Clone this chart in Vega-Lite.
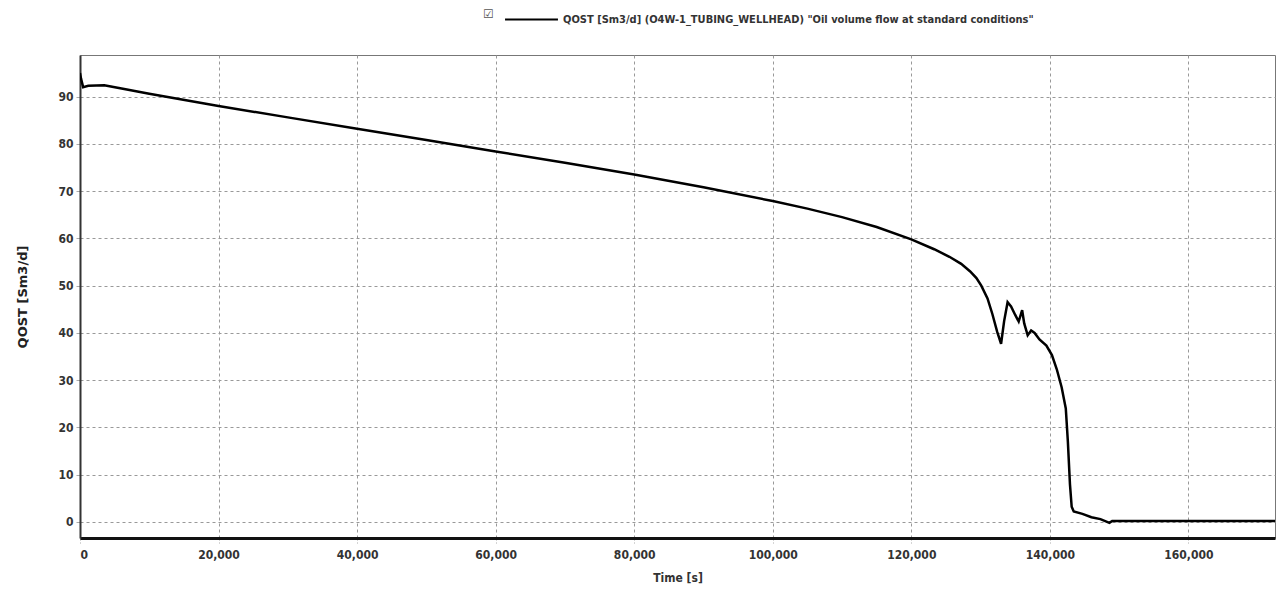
{
  "$schema": "https://vega.github.io/schema/vega-lite/v6.json",
  "autosize": "none",
  "width": 1195,
  "height": 483,
  "padding": {"left": 80, "top": 55, "right": 2, "bottom": 55},
  "background": "white",
  "config": {
    "font": "DejaVu Sans Condensed, Liberation Sans, sans-serif",
    "view": {"stroke": "#777", "strokeWidth": 1}
  },
  "data": {
    "values": [
      {"t": 0, "q": 95.0, "s": "QOST [Sm3/d] (O4W-1_TUBING_WELLHEAD) \"Oil volume flow at standard conditions\""},
      {"t": 150, "q": 93.8, "s": "QOST [Sm3/d] (O4W-1_TUBING_WELLHEAD) \"Oil volume flow at standard conditions\""},
      {"t": 450, "q": 92.0, "s": "QOST [Sm3/d] (O4W-1_TUBING_WELLHEAD) \"Oil volume flow at standard conditions\""},
      {"t": 1200, "q": 92.3, "s": "QOST [Sm3/d] (O4W-1_TUBING_WELLHEAD) \"Oil volume flow at standard conditions\""},
      {"t": 3500, "q": 92.4, "s": "QOST [Sm3/d] (O4W-1_TUBING_WELLHEAD) \"Oil volume flow at standard conditions\""},
      {"t": 6000, "q": 91.7, "s": "QOST [Sm3/d] (O4W-1_TUBING_WELLHEAD) \"Oil volume flow at standard conditions\""},
      {"t": 10000, "q": 90.6, "s": "QOST [Sm3/d] (O4W-1_TUBING_WELLHEAD) \"Oil volume flow at standard conditions\""},
      {"t": 20000, "q": 88.0, "s": "QOST [Sm3/d] (O4W-1_TUBING_WELLHEAD) \"Oil volume flow at standard conditions\""},
      {"t": 30000, "q": 85.6, "s": "QOST [Sm3/d] (O4W-1_TUBING_WELLHEAD) \"Oil volume flow at standard conditions\""},
      {"t": 40000, "q": 83.2, "s": "QOST [Sm3/d] (O4W-1_TUBING_WELLHEAD) \"Oil volume flow at standard conditions\""},
      {"t": 50000, "q": 80.8, "s": "QOST [Sm3/d] (O4W-1_TUBING_WELLHEAD) \"Oil volume flow at standard conditions\""},
      {"t": 60000, "q": 78.4, "s": "QOST [Sm3/d] (O4W-1_TUBING_WELLHEAD) \"Oil volume flow at standard conditions\""},
      {"t": 70000, "q": 76.0, "s": "QOST [Sm3/d] (O4W-1_TUBING_WELLHEAD) \"Oil volume flow at standard conditions\""},
      {"t": 80000, "q": 73.5, "s": "QOST [Sm3/d] (O4W-1_TUBING_WELLHEAD) \"Oil volume flow at standard conditions\""},
      {"t": 90000, "q": 70.8, "s": "QOST [Sm3/d] (O4W-1_TUBING_WELLHEAD) \"Oil volume flow at standard conditions\""},
      {"t": 100000, "q": 67.9, "s": "QOST [Sm3/d] (O4W-1_TUBING_WELLHEAD) \"Oil volume flow at standard conditions\""},
      {"t": 105000, "q": 66.3, "s": "QOST [Sm3/d] (O4W-1_TUBING_WELLHEAD) \"Oil volume flow at standard conditions\""},
      {"t": 110000, "q": 64.5, "s": "QOST [Sm3/d] (O4W-1_TUBING_WELLHEAD) \"Oil volume flow at standard conditions\""},
      {"t": 115000, "q": 62.4, "s": "QOST [Sm3/d] (O4W-1_TUBING_WELLHEAD) \"Oil volume flow at standard conditions\""},
      {"t": 120000, "q": 59.8, "s": "QOST [Sm3/d] (O4W-1_TUBING_WELLHEAD) \"Oil volume flow at standard conditions\""},
      {"t": 123300, "q": 57.7, "s": "QOST [Sm3/d] (O4W-1_TUBING_WELLHEAD) \"Oil volume flow at standard conditions\""},
      {"t": 125500, "q": 56.1, "s": "QOST [Sm3/d] (O4W-1_TUBING_WELLHEAD) \"Oil volume flow at standard conditions\""},
      {"t": 127200, "q": 54.6, "s": "QOST [Sm3/d] (O4W-1_TUBING_WELLHEAD) \"Oil volume flow at standard conditions\""},
      {"t": 128500, "q": 53.0, "s": "QOST [Sm3/d] (O4W-1_TUBING_WELLHEAD) \"Oil volume flow at standard conditions\""},
      {"t": 129400, "q": 51.6, "s": "QOST [Sm3/d] (O4W-1_TUBING_WELLHEAD) \"Oil volume flow at standard conditions\""},
      {"t": 130100, "q": 50.0, "s": "QOST [Sm3/d] (O4W-1_TUBING_WELLHEAD) \"Oil volume flow at standard conditions\""},
      {"t": 131000, "q": 47.3, "s": "QOST [Sm3/d] (O4W-1_TUBING_WELLHEAD) \"Oil volume flow at standard conditions\""},
      {"t": 131700, "q": 44.0, "s": "QOST [Sm3/d] (O4W-1_TUBING_WELLHEAD) \"Oil volume flow at standard conditions\""},
      {"t": 132400, "q": 40.2, "s": "QOST [Sm3/d] (O4W-1_TUBING_WELLHEAD) \"Oil volume flow at standard conditions\""},
      {"t": 132960, "q": 37.7, "s": "QOST [Sm3/d] (O4W-1_TUBING_WELLHEAD) \"Oil volume flow at standard conditions\""},
      {"t": 133400, "q": 42.5, "s": "QOST [Sm3/d] (O4W-1_TUBING_WELLHEAD) \"Oil volume flow at standard conditions\""},
      {"t": 133900, "q": 46.5, "s": "QOST [Sm3/d] (O4W-1_TUBING_WELLHEAD) \"Oil volume flow at standard conditions\""},
      {"t": 134400, "q": 45.6, "s": "QOST [Sm3/d] (O4W-1_TUBING_WELLHEAD) \"Oil volume flow at standard conditions\""},
      {"t": 135000, "q": 43.8, "s": "QOST [Sm3/d] (O4W-1_TUBING_WELLHEAD) \"Oil volume flow at standard conditions\""},
      {"t": 135500, "q": 42.4, "s": "QOST [Sm3/d] (O4W-1_TUBING_WELLHEAD) \"Oil volume flow at standard conditions\""},
      {"t": 136000, "q": 44.8, "s": "QOST [Sm3/d] (O4W-1_TUBING_WELLHEAD) \"Oil volume flow at standard conditions\""},
      {"t": 136300, "q": 42.0, "s": "QOST [Sm3/d] (O4W-1_TUBING_WELLHEAD) \"Oil volume flow at standard conditions\""},
      {"t": 136800, "q": 39.5, "s": "QOST [Sm3/d] (O4W-1_TUBING_WELLHEAD) \"Oil volume flow at standard conditions\""},
      {"t": 137300, "q": 40.5, "s": "QOST [Sm3/d] (O4W-1_TUBING_WELLHEAD) \"Oil volume flow at standard conditions\""},
      {"t": 137800, "q": 40.0, "s": "QOST [Sm3/d] (O4W-1_TUBING_WELLHEAD) \"Oil volume flow at standard conditions\""},
      {"t": 138500, "q": 38.6, "s": "QOST [Sm3/d] (O4W-1_TUBING_WELLHEAD) \"Oil volume flow at standard conditions\""},
      {"t": 139500, "q": 37.3, "s": "QOST [Sm3/d] (O4W-1_TUBING_WELLHEAD) \"Oil volume flow at standard conditions\""},
      {"t": 140300, "q": 35.3, "s": "QOST [Sm3/d] (O4W-1_TUBING_WELLHEAD) \"Oil volume flow at standard conditions\""},
      {"t": 141000, "q": 32.3, "s": "QOST [Sm3/d] (O4W-1_TUBING_WELLHEAD) \"Oil volume flow at standard conditions\""},
      {"t": 141700, "q": 28.5, "s": "QOST [Sm3/d] (O4W-1_TUBING_WELLHEAD) \"Oil volume flow at standard conditions\""},
      {"t": 142300, "q": 24.0, "s": "QOST [Sm3/d] (O4W-1_TUBING_WELLHEAD) \"Oil volume flow at standard conditions\""},
      {"t": 142600, "q": 17.0, "s": "QOST [Sm3/d] (O4W-1_TUBING_WELLHEAD) \"Oil volume flow at standard conditions\""},
      {"t": 142900, "q": 8.0, "s": "QOST [Sm3/d] (O4W-1_TUBING_WELLHEAD) \"Oil volume flow at standard conditions\""},
      {"t": 143150, "q": 3.2, "s": "QOST [Sm3/d] (O4W-1_TUBING_WELLHEAD) \"Oil volume flow at standard conditions\""},
      {"t": 143450, "q": 2.2, "s": "QOST [Sm3/d] (O4W-1_TUBING_WELLHEAD) \"Oil volume flow at standard conditions\""},
      {"t": 144700, "q": 1.7, "s": "QOST [Sm3/d] (O4W-1_TUBING_WELLHEAD) \"Oil volume flow at standard conditions\""},
      {"t": 146000, "q": 1.0, "s": "QOST [Sm3/d] (O4W-1_TUBING_WELLHEAD) \"Oil volume flow at standard conditions\""},
      {"t": 147300, "q": 0.6, "s": "QOST [Sm3/d] (O4W-1_TUBING_WELLHEAD) \"Oil volume flow at standard conditions\""},
      {"t": 148600, "q": -0.2, "s": "QOST [Sm3/d] (O4W-1_TUBING_WELLHEAD) \"Oil volume flow at standard conditions\""},
      {"t": 149000, "q": 0.2, "s": "QOST [Sm3/d] (O4W-1_TUBING_WELLHEAD) \"Oil volume flow at standard conditions\""},
      {"t": 160000, "q": 0.2, "s": "QOST [Sm3/d] (O4W-1_TUBING_WELLHEAD) \"Oil volume flow at standard conditions\""},
      {"t": 172500, "q": 0.2, "s": "QOST [Sm3/d] (O4W-1_TUBING_WELLHEAD) \"Oil volume flow at standard conditions\""}
    ]
  },
  "mark": {"type": "line", "strokeWidth": 2.5, "clip": true},
  "encoding": {
    "x": {
      "field": "t",
      "type": "quantitative",
      "scale": {"domain": [0, 172500], "nice": false, "zero": false},
      "axis": {
        "title": "Time [s]",
        "values": [0, 20000, 40000, 60000, 80000, 100000, 120000, 140000, 160000],
        "format": ",d",
        "grid": true,
        "gridDash": [3, 3],
        "gridColor": "#999",
        "gridOpacity": 1,
        "domainColor": "#111",
        "domainWidth": 3,
        "tickColor": "#aaa",
        "tickSize": 5,
        "tickDash": [2, 2],
        "labelFontSize": 12,
        "labelFontWeight": "bold",
        "labelColor": "#333",
        "labelPadding": 6,
        "titleFontSize": 12,
        "titleFontWeight": "bold",
        "titleColor": "#333",
        "titlePadding": 12
      }
    },
    "y": {
      "field": "q",
      "type": "quantitative",
      "scale": {"domain": [-3.4, 98.8], "nice": false, "zero": false},
      "axis": {
        "title": "QOST [Sm3/d]",
        "values": [0, 10, 20, 30, 40, 50, 60, 70, 80, 90],
        "grid": true,
        "gridDash": [3, 3],
        "gridColor": "#999",
        "gridOpacity": 1,
        "domainColor": "#333",
        "domainWidth": 2,
        "tickColor": "#aaa",
        "tickSize": 4,
        "labelFontSize": 12,
        "labelFontWeight": "bold",
        "labelColor": "#333",
        "labelPadding": 3,
        "titleFont": "DejaVu Sans",
        "titleFontSize": 13,
        "titleFontWeight": "bold",
        "titleColor": "#222",
        "titlePadding": 28
      }
    },
    "color": {
      "field": "s",
      "type": "nominal",
      "scale": {"range": ["#000000"]},
      "legend": {
        "orient": "none",
        "legendX": 403,
        "legendY": -63,
        "direction": "horizontal",
        "title": ["", "☑"],
        "titleOrient": "left",
        "titleLineHeight": 11,
        "titleFontSize": 12,
        "titleColor": "#555",
        "titleFont": "DejaVu Sans",
        "titlePadding": 10,
        "symbolType": "stroke",
        "symbolSize": 2800,
        "symbolStrokeWidth": 2,
        "labelFontSize": 11,
        "labelFontWeight": "bold",
        "labelColor": "#333",
        "labelLimit": 600,
        "labelOffset": 4
      }
    }
  }
}
